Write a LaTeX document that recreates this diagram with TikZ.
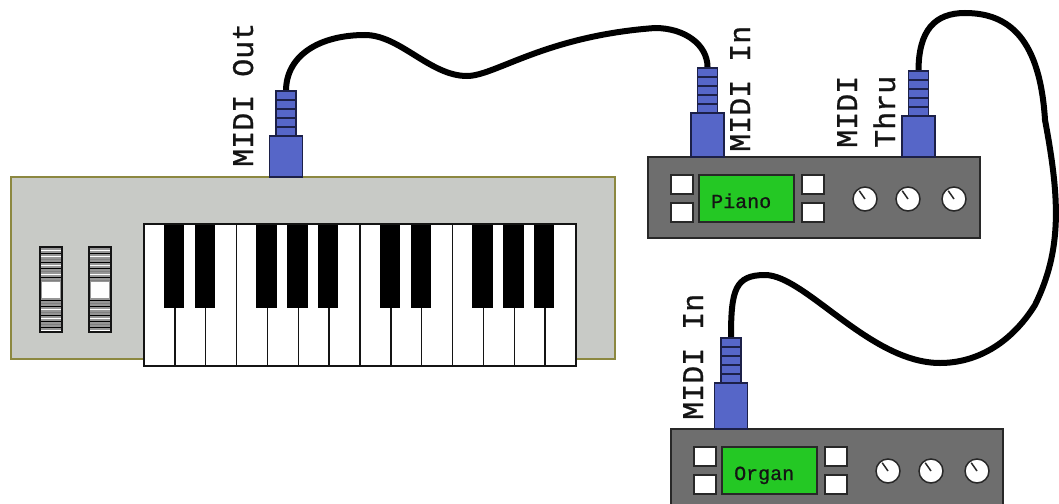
\documentclass[tikz,border=0pt]{standalone}
\usepackage{fontspec}
\newfontfamily\monofont[FakeBold=0.8]{Liberation Mono}
\definecolor{bodygray}{RGB}{200,202,198}
\definecolor{bodyedge}{RGB}{140,136,64}
\definecolor{modgray}{RGB}{110,110,110}
\definecolor{modedge}{RGB}{40,40,40}
\definecolor{lcdgreen}{RGB}{36,200,36}
\definecolor{plugblue}{RGB}{86,102,200}
\definecolor{plugedge}{RGB}{28,32,72}
\definecolor{wheelgray}{RGB}{150,150,150}
\definecolor{inkdark}{RGB}{20,20,20}

% draws a MIDI plug: #1 centre x, #2 top of the wide part, #3 bottom
\newcommand\midiplug[3]{%
  \draw[plugbody] ({#1-16.5},#2) rectangle ({#1+16.5},#3);
  \draw[plugbody] ({#1-10},{#2-45}) rectangle ({#1+10},#2);
  \foreach \k in {1,...,4}
    \draw[plugedge, line width=1.2] ({#1-10},{#2-45+9*\k}) -- ({#1+10},{#2-45+9*\k});
}
% draws a sound module face: #1 left x, #2 top y, #3 screen text, #4 name
\newcommand\soundmodule[4]{%
  \draw[module] (#1,#2) rectangle ({#1+332},{#2+81});
  \draw[btn] ({#1+23},{#2+18}) rectangle ({#1+45},{#2+37});
  \draw[btn] ({#1+23},{#2+46}) rectangle ({#1+45},{#2+65});
  \draw[screen] ({#1+51},{#2+18}) rectangle ({#1+146},{#2+65});
  \draw[btn] ({#1+154},{#2+18}) rectangle ({#1+176},{#2+37});
  \draw[btn] ({#1+154},{#2+46}) rectangle ({#1+176},{#2+65});
  \node[lcdtext] (#4) at ({#1+63},{#2+51}) {#3};
  \foreach \kx in {217,260,306}{
    \draw[knob] ({#1+\kx},{#2+42}) circle (12);
    \draw[modedge, line width=1.5] ({#1+\kx},{#2+42}) -- +(-125:10);
  }
}

\begin{document}
\begin{tikzpicture}[x=1pt,y=-1pt,
  body/.style={fill=bodygray, draw=bodyedge, line width=2},
  module/.style={fill=modgray, draw=modedge, line width=1.5},
  btn/.style={fill=white, draw=modedge, line width=1.3},
  screen/.style={fill=lcdgreen, draw=modedge, line width=1.5},
  knob/.style={fill=white, draw=modedge, line width=1.5},
  plugbody/.style={fill=plugblue, draw=plugedge, line width=1.2},
  cable/.style={draw=black, line width=6, line cap=round},
  keyline/.style={draw=inkdark, line width=1.4},
  jacklabel/.style={rotate=90, anchor=base west, inner sep=0, text=inkdark,
    font=\monofont\fontsize{30}{34}\selectfont},
  lcdtext/.style={anchor=base west, inner sep=0, text=inkdark,
    font=\monofont\fontsize{20}{24}\selectfont}]
\useasboundingbox (0,0) rectangle (1059,503);
\clip (0,0) rectangle (1059,503);

% plug tips where the cables end
\coordinate (outtip)   at (286,91);
\coordinate (pianotip) at (707.5,67);
\coordinate (thrutip)  at (918.5,71);
\coordinate (organtip) at (731,337);

% keyboard body
\draw[body] (11,177) rectangle (615,359);

% pitch and modulation wheels
\foreach \wx in {40,89}{
  \fill[wheelgray] (\wx,247) rectangle ({\wx+22},332);
  \foreach \s/\c in {250/white,253/black,256/white,259/gray,262/black,265/white,
      268/black,271/gray,274/white,277/black,280/gray,
      300/black,303/gray,306/black,309/white,312/gray,315/black,318/white,
      321/black,324/gray,327/black,330/white}
    \draw[\c, line width=1] (\wx,\s) -- ({\wx+22},\s);
  \fill[white] ({\wx+2},282) rectangle ({\wx+20},298);
  \draw[inkdark, line width=1.2] (\wx,247) rectangle ({\wx+22},332);
}

% keys: two octaves of white keys with the black keys on top
\fill[white] (144,224) rectangle (576,366);
\foreach \i in {1,...,13}
  \draw[keyline] ({144+\i*30.857},224) -- ({144+\i*30.857},366);
\foreach \b in {1,2,4,5,6,8,9,11,12,13}
  \fill[black] ({144+\b*30.857-11.2},224) rectangle +(20.5,84);
\draw[keyline] (144,224) rectangle (576,366);

% sound modules
\soundmodule{648}{157}{Piano}{pianoscreen}
\soundmodule{671}{429}{Organ}{organscreen}

% cables
\draw[cable] (outtip) .. controls (286,55) and (320,35) .. (365,35)
  .. controls (400,35) and (430,76) .. (467,76)
  .. controls (495,76) and (545,36) .. (655,28)
  .. controls (685,28) and (707.5,45) .. (pianotip);
\draw[cable] (thrutip) .. controls (918.5,30) and (935,13) .. (965,13)
  .. controls (1010,13) and (1040,40) .. (1045,120)
  .. controls (1060,200) and (1062,250) .. (1035,305)
  .. controls (1010,345) and (975,363) .. (940,363)
  .. controls (870,363) and (805,275) .. (765,275)
  .. controls (735,275) and (731,290) .. (organtip);

% plugs
\midiplug{286}{136}{177}
\midiplug{707.5}{113}{157}
\midiplug{918.5}{116}{157}
\midiplug{731}{383}{429}

% jack labels
\node[jacklabel] (outlabel)   at (253,167) {MIDI Out};
\node[jacklabel] (pianolabel) at (750,152) {MIDI In};
\node[jacklabel] (thrulabelA) at (857,148) {MIDI};
\node[jacklabel] (thrulabelB) at (895,148) {Thru};
\node[jacklabel] (organlabel) at (703,420) {MIDI In};
\end{tikzpicture}
\end{document}
